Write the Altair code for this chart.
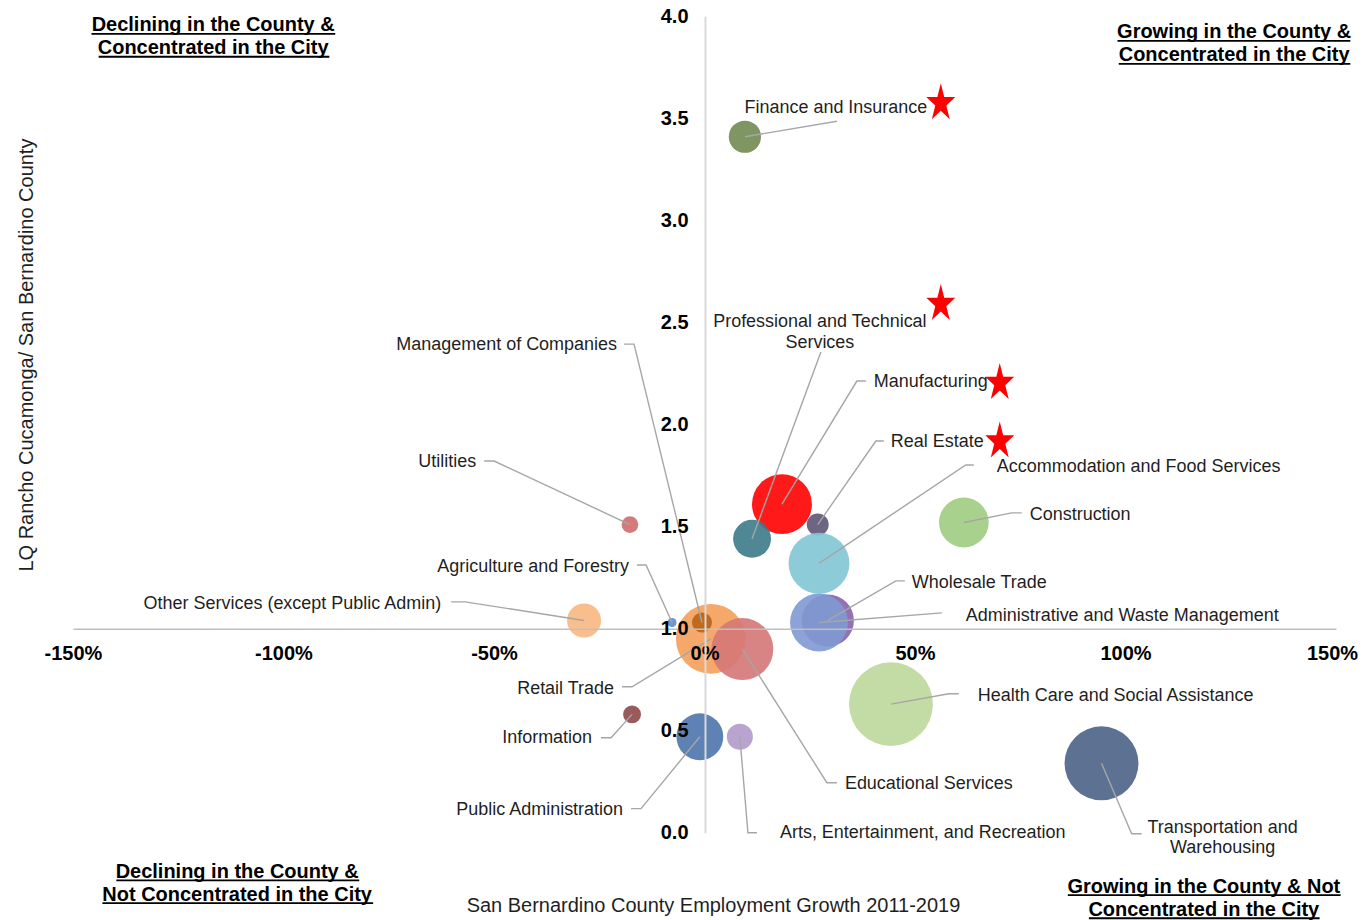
import altair as alt
import pandas as pd

# ---------------- data ----------------
industries = [
    "Manufacturing", "Professional and Technical Services", "Real Estate",
    "Accommodation and Food Services", "Construction", "Finance and Insurance",
    "Utilities", "Other Services (except Public Admin)", "Agriculture and Forestry",
    "Retail Trade", "Management of Companies", "Educational Services",
    "Wholesale Trade", "Administrative and Waste Management",
    "Health Care and Social Assistance", "Information", "Public Administration",
    "Arts, Entertainment, and Recreation", "Transportation and Warehousing",
]
growth = [18.4, 11.3, 26.9, 27.2, 61.6, 9.6, -17.7, -28.6, -7.7, 1.5, -0.6, 9.0,
          29.3, 27.2, 44.3, -17.2, -1.1, 8.4, 94.3]
lq = [1.61, 1.44, 1.51, 1.32, 1.52, 3.41, 1.51, 1.04, 1.03, 0.95, 1.03, 0.90,
      1.04, 1.03, 0.63, 0.58, 0.47, 0.47, 0.34]
employment = [90, 36, 12, 93, 62, 26, 7, 29, 2, 122, 10, 96, 68, 84, 176, 8, 55, 17, 137]
colors = ["#ff0000", "#3d7a88", "#5e5377", "#81c5d5", "#9fcc81", "#718a51", "#cf6b6b",
          "#f8b77f", "#608acb", "#f49e59", "#b96317", "#d57777", "#8a62aa", "#7e99d2",
          "#bcd79a", "#904848", "#4d74ac", "#b199ca", "#4b6387"]

label_text = [
    "Manufacturing", "Professional and Technical\nServices", "Real Estate",
    "Accommodation and Food Services", "Construction", "Finance and Insurance",
    "Utilities", "Other Services (except Public Admin)", "Agriculture and Forestry",
    "Retail Trade", "Management of Companies", "Educational Services",
    "Wholesale Trade", "Administrative and Waste Management",
    "Health Care and Social Assistance", "Information", "Public Administration",
    "Arts, Entertainment, and Recreation", "Transportation and\nWarehousing",
]
label_x = [40.23, 27.41, 44.26, 69.42, 77.25, 31.21, -54.23, -62.54, -17.92, -21.48,
           -20.77, 33.35, 49.25, 62.06, 64.91, -26.70, -19.34, 17.92, 123.06]
label_y = [2.213, 2.507, 1.919, 1.797, 1.562, 3.554, 1.821, 1.126, 1.307, 0.710,
           2.394, 0.245, 1.229, 1.067, 0.676, 0.470, 0.118, 0.005, 0.029]
label_align = ["left", "center", "left", "left", "left", "center", "right", "right",
               "right", "right", "right", "left", "left", "left", "left", "right",
               "right", "left", "center"]
elbow_x = [36.19, 27.65, 40.70, 62.06, 72.98, 31.45, -49.96, -56.84, -13.88, -17.21,
           -16.73, 29.07, 45.45, 56.37, 58.03, -22.19, -15.07, 10.32, 101.46]
elbow_y = [2.213, 2.355, 1.919, 1.802, 1.567, 3.486, 1.821, 1.131, 1.312, 0.715,
           2.394, 0.245, 1.234, 1.077, 0.681, 0.465, 0.118, 0.000, -0.005]
end_x = [38.33, 27.65, 42.60, 63.96, 75.36, 31.45, -52.33, -60.17, -16.02, -19.58,
         -19.11, 31.45, 47.59, 56.37, 60.40, -24.56, -17.44, 12.46, 103.84]
end_y = elbow_y

star_x = [56.13, 56.13, 70.13, 70.13]
star_y = [3.584, 2.600, 2.213, 1.927]

quad_lines = ["Declining in the County &", "Concentrated in the City",
              "Growing in the County &", "Concentrated in the City",
              "Declining in the County &", "Not Concentrated in the City",
              "Growing in the County & Not", "Concentrated in the City"]
quad_x = [-116.7, -116.7, 125.8, 125.8, -111.0, -111.0, 118.6, 118.6]
quad_y = [3.927, 3.814, 3.892, 3.780, -0.220, -0.333, -0.294, -0.406]
under_x1 = [-145.6, -143.9, 98.1, 98.4, -139.7, -143.0, 86.3, 91.3]
under_x2 = [-87.7, -89.1, 153.4, 153.4, -82.0, -78.7, 151.1, 146.1]
under_y = [3.914, 3.802, 3.880, 3.767, -0.233, -0.345, -0.306, -0.419]

x_ticks = [-150, -100, -50, 0, 50, 100, 150]
y_ticks = [0, 0.5, 1.0, 1.5, 2.0, 2.5, 3.0, 3.5, 4.0]

x_title = "San Bernardino County Employment Growth 2011-2019"
y_title = "LQ Rancho Cucamonga/ San Bernardino County"

FONT = "Liberation Sans"
TXT = "#1f1f1f"
STAR = ("M0,-1 L0.19,-0.236 L0.806,-0.236 L0.307,0.236 L0.498,1 L0,0.528 "
        "L-0.498,1 L-0.307,0.236 L-0.806,-0.236 L-0.19,-0.236 Z")

# ---------------- tables ----------------
n = len(industries)
bub = pd.DataFrame({"industry": industries, "x": growth, "y": lq,
                    "emp": employment, "ord": list(range(n))})

rows = []
for i in range(n):
    rows.append({"industry": industries[i], "i": 0, "x": growth[i], "y": lq[i]})
    rows.append({"industry": industries[i], "i": 1, "x": elbow_x[i], "y": elbow_y[i]})
    rows.append({"industry": industries[i], "i": 2, "x": end_x[i], "y": end_y[i]})
leaders = pd.DataFrame(rows)

labels = pd.DataFrame({"label": label_text, "x": label_x, "y": label_y, "align": label_align})
stars = pd.DataFrame({"x": star_x, "y": star_y})
quads = pd.DataFrame({"t": quad_lines, "x": quad_x, "y": quad_y})
unders = pd.DataFrame({"x": under_x1, "x2": under_x2, "y": under_y})
last_tick = pd.DataFrame({"x": [x_ticks[-1]], "y": [1.0], "t": [f"{x_ticks[-1]}%"]})

xscale = alt.Scale(domain=[-150, 150], nice=False, zero=False)
yscale = alt.Scale(domain=[0, 4], nice=False, zero=False)

xaxis = alt.Axis(values=x_ticks,
                 labelExpr=f"datum.value == {x_ticks[-1]} ? '' : datum.value + '%'",
                 offset=-204.25,
                 ticks=False, tickSize=0, grid=False, domainColor="#bfbfbf",
                 domainWidth=1.5, labelFont=FONT, labelFontSize=20,
                 labelFontWeight="bold", labelColor="black", labelPadding=15,
                 labelFlush=False, labelOverlap=False, title=None, zindex=1)
yaxis = alt.Axis(values=y_ticks, format=".1f", offset=-632.5, ticks=False, tickSize=0,
                 grid=False, domainColor="#d9d9d9", domainWidth=2, labelFont=FONT,
                 labelFontSize=20, labelFontWeight="bold", labelColor="black",
                 labelPadding=17, labelFlush=False, labelOverlap=False, title=None,
                 zindex=1)


def X(field="x"):
    return alt.X(f"{field}:Q", scale=xscale, axis=xaxis)


def Y(field="y"):
    return alt.Y(f"{field}:Q", scale=yscale, axis=yaxis)


bubbles = alt.Chart(bub).mark_circle(opacity=0.9).encode(
    x=X(), y=Y(),
    size=alt.Size("emp:Q", scale=alt.Scale(domain=[0, 200], range=[0, 8000]), legend=None),
    color=alt.Color("industry:N", scale=alt.Scale(domain=industries, range=colors), legend=None),
    order=alt.Order("ord:Q"),
)

lines = alt.Chart(leaders).mark_line(color="#a6a6a6", strokeWidth=1.4).encode(
    x=X(), y=Y(), detail="industry:N", order="i:Q",
)


def label_layer(al):
    return alt.Chart(labels).transform_filter(alt.datum.align == al).mark_text(
        align=al, baseline="middle", font=FONT, fontSize=18, color=TXT,
        lineBreak="\n", lineHeight=20.5, dy=1,
    ).encode(x=X(), y=Y(), text="label:N")


star_layer = alt.Chart(stars).mark_point(shape=STAR, filled=True, color="#ff0000",
                                         opacity=1, size=1296, strokeWidth=0).encode(
    x=X(), y=Y(),
)

quad_layer = alt.Chart(quads).mark_text(align="center", baseline="alphabetic", font=FONT,
                                        fontSize=20, fontWeight="bold", color="black").encode(
    x=X(), y=Y(), text="t:N",
)

under_layer = alt.Chart(unders).mark_rule(color="black", strokeWidth=1.8).encode(
    x=X(), x2="x2:Q", y=Y(),
)

# last x tick label drawn separately, nudged so it stays inside the page
last_label = alt.Chart(last_tick).mark_text(
    align="right", baseline="top", font=FONT, fontSize=20, fontWeight="bold",
    color="black", dx=22, dy=15,
).encode(x=X(), y=Y(), text="t:N")

one = pd.DataFrame({"a": [0]})
xt = alt.Chart(one).mark_text(text=x_title, font=FONT, fontSize=20, color=TXT,
                              align="center", baseline="middle").encode(
    x=alt.value(641), y=alt.value(890))
yt = alt.Chart(one).mark_text(text=y_title, font=FONT, fontSize=20, color=TXT,
                              align="center", baseline="middle", angle=270).encode(
    x=alt.value(-46), y=alt.value(339))

chart = alt.layer(
    bubbles, lines, label_layer("left"), label_layer("right"), label_layer("center"),
    star_layer, quad_layer, under_layer, last_label, xt, yt,
).properties(
    width=1264, height=817,
    padding={"left": 65, "top": 8, "right": 22, "bottom": 87},
    autosize=alt.AutoSizeParams(type="none"),
).configure_view(stroke=None)

chart.save("out.html", embed_options={"renderer": "svg", "actions": False})
